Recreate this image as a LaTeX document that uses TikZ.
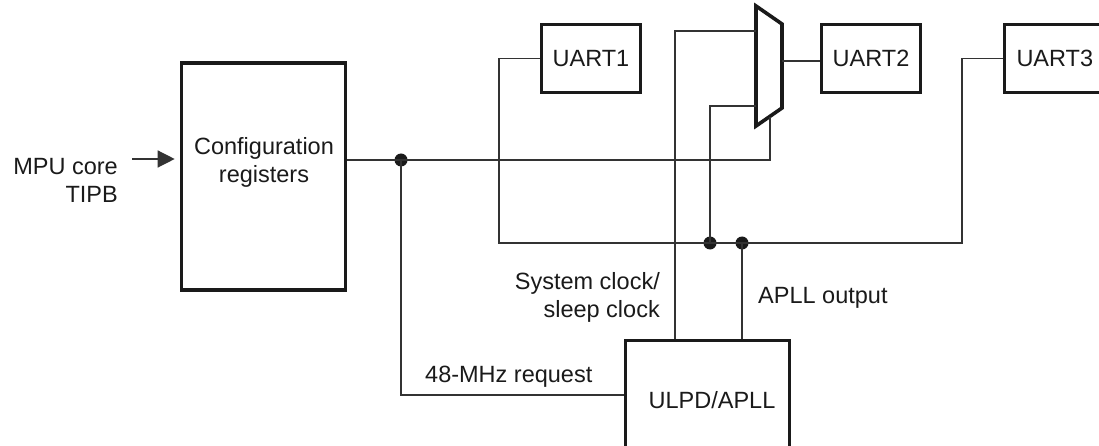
\documentclass[tikz,border=0pt]{standalone}
\usepackage{fontspec}
\setmainfont{Liberation Sans}
\usetikzlibrary{arrows.meta}
\definecolor{wire}{HTML}{333333}
\definecolor{edge}{HTML}{1A1A1A}
\begin{document}
\begin{tikzpicture}[x=1pt,y=-1pt,
  every node/.style={font=\fontsize{23.5}{28}\selectfont, text=edge},
  blk/.style={draw=edge, line width=3.6pt, inner sep=0pt},
  wire/.style={draw=wire, line width=1.3pt},
  dot/.style={circle, fill=edge, inner sep=0pt, minimum size=13pt},
  lbl/.style={inner sep=0pt}]
\useasboundingbox (0,0) rectangle (1099,446);
\clip (0,0) rectangle (1099,446);
% blocks
\node[blk, minimum width=164pt, minimum height=227pt] (cfg) at (263.5,176.5) {};
\node[lbl, align=center] (cfgtxt) at (264,162) {Configuration\\registers};
\node[blk, minimum width=99pt, minimum height=68pt] (uart1) at (591,58.5) {UART1};
\node[blk, minimum width=99pt, minimum height=68pt] (uart2) at (871,58.5) {UART2};
\node[blk, minimum width=105pt, minimum height=68pt, text width=105pt, align=left] (uart3) at (1057,58.5) {\hspace*{12pt}UART3};
\node[blk, minimum width=164pt, minimum height=119pt] (ulpd) at (707.5,400) {\hspace*{9pt}ULPD/APLL};
% mux
\coordinate (m1) at (756,6);
\coordinate (m2) at (782,24);
\coordinate (m3) at (782,108);
\coordinate (m4) at (756,126);
\draw[draw=edge, line width=3.6pt, line join=miter] (m1) -- (m2) -- (m3) -- (m4) -- cycle;
\coordinate (mb) at (770,117);
\coordinate (mi1) at (756,31);
\coordinate (mi2) at (756,106);
\coordinate (mo) at (782,61);
% junctions
\node[dot] (d1) at (401,160) {};
\node[dot] (d2) at (710,243) {};
\node[dot] (d3) at (742,243) {};
\coordinate (bl) at (499,243);
\coordinate (br) at (962,243);
\coordinate (r48) at (401,395);
\coordinate (sc) at (675,31);
% labels
\node[lbl, align=right, anchor=east] (mpu) at (118,180) {MPU core\\TIPB};
\node[lbl, align=right, anchor=north east] (sys) at (660,272) {System clock/\\sleep clock};
\node[lbl, anchor=base west] (apll) at (758,303) {APLL output};
\node[lbl, anchor=base west] (req) at (425,382) {48-MHz request};
% wires
\draw[wire, -{Triangle[length=17pt,width=17pt]}, shorten >=5pt] (132,159) coordinate (in) -- (in -| cfg.west);
\draw[wire] (cfg.east |- d1) -- (d1.center) -| (mb);
\draw[wire] (d1.center) |- (r48) -- (r48 -| ulpd.west);
\draw[wire] (uart1.west) -| (bl) -- (br) |- (uart3.west);
\draw[wire] (d2.center) |- (mi2);
\draw[wire] (sc |- ulpd.north) -- (sc) -- (mi1);
\draw[wire] (d3.center) -- (d3 |- ulpd.north);
\draw[wire] (mo) -- (mo -| uart2.west);
\end{tikzpicture}
\end{document}
